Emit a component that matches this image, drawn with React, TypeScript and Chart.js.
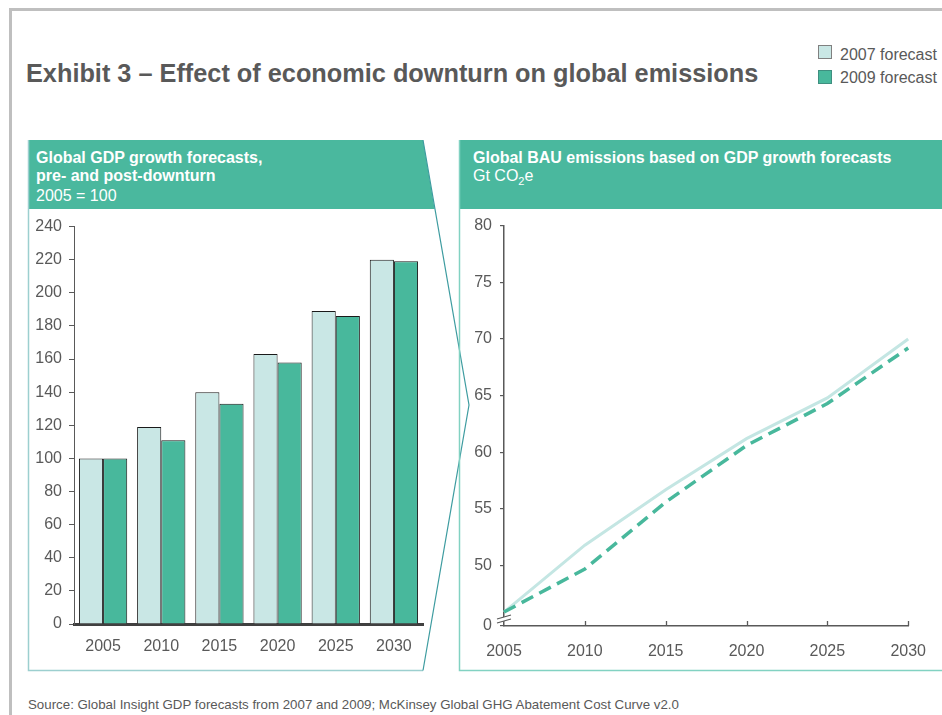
import React, { useEffect, useRef } from 'react';
import { Chart, registerables } from 'chart.js';

Chart.register(...registerables);

// ---------- data ----------
const years = ['2005', '2010', '2015', '2020', '2025', '2030'];
const gdp2007 = [100, 119, 140, 163, 189, 220];
const gdp2009 = [100, 111, 133, 158, 186, 219];
const gdpMin = 0;
const gdpMax = 240;
const gdpStep = 20;

const emis2007 = [45.9, 51.8, 56.7, 61.2, 64.8, 70.0];
const emis2009 = [45.9, 49.7, 55.6, 60.6, 64.3, 69.2];
const emisTicks = [50, 55, 60, 65, 70, 75, 80];
const emisAxisMin = 44.67; // bottom of broken axis (labelled "0")
const emisBreakLabel = '0';

const seriesNames = ['2007 forecast', '2009 forecast'];

// ---------- style ----------
const FONT = '"Liberation Sans", Arial, Helvetica, sans-serif';
const TEXT = '#595959';
const TEAL = '#4ab89e';
const LIGHT = '#c9e7e5';
const LIGHT_LINE = '#c4e6e3';
const DARK = '#48b89c';
const TICK_SIZE = 16;

function BarChart() {
  const ref = useRef<HTMLCanvasElement>(null);
  useEffect(() => {
    const chart = new Chart(ref.current as HTMLCanvasElement, {
      type: 'bar',
      data: {
        labels: years,
        datasets: [
          { label: seriesNames[0], data: gdp2007, backgroundColor: LIGHT, borderColor: '#1a1a1a', borderWidth: 1 },
          { label: seriesNames[1], data: gdp2009, backgroundColor: DARK, borderColor: '#1a1a1a', borderWidth: 1 },
        ],
      },
      options: {
        animation: false,
        responsive: false,
        maintainAspectRatio: false,
        layout: { padding: { top: 12, right: 5, bottom: 0, left: 0 } },
        datasets: { bar: { categoryPercentage: 0.83, barPercentage: 1 } },
        plugins: { legend: { display: false }, tooltip: { enabled: false } },
        scales: {
          x: {
            grid: { display: false, drawTicks: false },
            border: { display: true, color: '#404040', width: 3 },
            ticks: { color: TEXT, font: { family: FONT, size: TICK_SIZE }, padding: 13 },
            afterFit: (s: any) => { s.height = 28; },
          },
          y: {
            min: gdpMin,
            max: gdpMax,
            ticks: { stepSize: gdpStep, color: TEXT, font: { family: FONT, size: TICK_SIZE }, padding: 7 },
            grid: { drawOnChartArea: false, drawTicks: true, tickLength: 5, color: '#595959', lineWidth: 1 },
            border: { color: '#595959', width: 1 },
            afterFit: (s: any) => { s.width = 46; },
          },
        },
      } as any,
    });
    return () => chart.destroy();
  }, []);
  return (
    <canvas
      ref={ref}
      width={400}
      height={442}
      style={{ position: 'absolute', left: 28, top: 210, width: 400, height: 442 }}
    />
  );
}

const axisDeco = {
  id: 'axisDeco',
  afterDraw(chart: any) {
    const { ctx, chartArea } = chart;
    const xs = chart.scales.x;
    const { left, bottom } = chartArea;
    ctx.save();
    // inward x ticks
    ctx.strokeStyle = '#595959';
    ctx.lineWidth = 1.3;
    for (let i = 1; i < xs.ticks.length; i++) {
      const x = Math.round(xs.getPixelForTick(i)) + 0.5;
      ctx.beginPath();
      ctx.moveTo(x, bottom);
      ctx.lineTo(x, bottom - 5);
      ctx.stroke();
    }
    // axis break
    ctx.fillStyle = '#ffffff';
    ctx.beginPath();
    ctx.moveTo(left - 7, bottom - 7);
    ctx.lineTo(left + 7, bottom - 11);
    ctx.lineTo(left + 7, bottom - 7);
    ctx.lineTo(left - 7, bottom - 3);
    ctx.closePath();
    ctx.fill();
    ctx.strokeStyle = '#595959';
    ctx.lineWidth = 1.2;
    ctx.beginPath();
    ctx.moveTo(left - 7, bottom - 7);
    ctx.lineTo(left + 7, bottom - 11);
    ctx.moveTo(left - 7, bottom - 3);
    ctx.lineTo(left + 7, bottom - 7);
    ctx.stroke();
    ctx.restore();
  },
};

function LineChart() {
  const ref = useRef<HTMLCanvasElement>(null);
  useEffect(() => {
    const chart = new Chart(ref.current as HTMLCanvasElement, {
      type: 'line',
      data: {
        labels: years,
        datasets: [
          { label: seriesNames[1], data: emis2009, borderColor: DARK, borderWidth: 3.5, borderDash: [13, 7], pointRadius: 0, fill: false, tension: 0 },
          { label: seriesNames[0], data: emis2007, borderColor: LIGHT_LINE, borderWidth: 3, pointRadius: 0, fill: false, tension: 0 },
        ],
      },
      options: {
        animation: false,
        responsive: false,
        maintainAspectRatio: false,
        layout: { padding: { top: 9.5, right: 33, bottom: 0, left: 0 } },
        plugins: { legend: { display: false }, tooltip: { enabled: false } },
        scales: {
          x: {
            offset: false,
            grid: { display: false, drawTicks: false },
            border: { display: true, color: '#595959', width: 1.5 },
            ticks: { color: TEXT, font: { family: FONT, size: TICK_SIZE }, padding: 16, maxRotation: 0 },
            afterFit: (s: any) => { s.height = 41; },
          },
          y: {
            min: emisAxisMin,
            max: emisTicks[emisTicks.length - 1],
            afterBuildTicks: (s: any) => {
              s.ticks = [emisAxisMin, ...emisTicks].map((v) => ({ value: v }));
            },
            ticks: {
              color: TEXT,
              font: { family: FONT, size: TICK_SIZE },
              padding: 8,
              callback: (v: any) => (v < emisTicks[0] ? emisBreakLabel : String(v)),
            },
            grid: { drawOnChartArea: false, drawTicks: true, tickLength: 4, color: '#595959', lineWidth: 1.2 },
            border: { color: '#595959', width: 1.5 },
            afterFit: (s: any) => { s.width = 42; },
          },
        },
      } as any,
      plugins: [axisDeco],
    });
    return () => chart.destroy();
  }, []);
  return (
    <canvas
      ref={ref}
      width={480}
      height={459}
      style={{ position: 'absolute', left: 462, top: 208, width: 480, height: 459 }}
    />
  );
}

export default function App() {
  const txt = (extra: any): any => ({ position: 'absolute', fontFamily: FONT, whiteSpace: 'nowrap', ...extra });
  return (
    <div style={{ position: 'fixed', left: 0, top: 0, width: 942, height: 715, background: '#fff', overflow: 'hidden' }}>
      <svg width={942} height={715} style={{ position: 'absolute', left: 0, top: 0 }}>
        {/* outer frame */}
        <line x1={9} y1={9.5} x2={942} y2={9.5} stroke="#bfbfbf" strokeWidth={3} />
        <line x1={10.5} y1={8} x2={10.5} y2={715} stroke="#bfbfbf" strokeWidth={3} />
        {/* left panel header */}
        <polygon points="28,140 423,140 434.7,209 28,209" fill={TEAL} />
        {/* left panel outline */}
        <polyline points="28.5,140 28.5,670.5 423,670.5" fill="none" stroke="#9ccfcf" strokeWidth={1.5} />
        <polyline points="423,140 469,405 423,670.5" fill="none" stroke="#3e9ca0" strokeWidth={1.2} />
        {/* right panel header */}
        <rect x={459} y={140} width={500} height={69} fill={TEAL} />
        <polyline points="950,670.5 459.5,670.5 459.5,140" fill="none" stroke="#82d2c2" strokeWidth={1.5} />
      </svg>

      <div style={txt({ left: 26, top: 58, fontSize: 25.3, lineHeight: '30px', fontWeight: 'bold', color: TEXT })}>
        Exhibit 3 – Effect of economic downturn on global emissions
      </div>

      {/* legend */}
      <div style={{ position: 'absolute', left: 818, top: 45, width: 14, height: 14, background: LIGHT, border: '1px solid #808080', boxSizing: 'border-box' }} />
      <div style={{ position: 'absolute', left: 818, top: 70, width: 14, height: 14, background: DARK, border: '1px solid #3f8f80', boxSizing: 'border-box' }} />
      <div style={txt({ left: 840, top: 45, fontSize: 16, lineHeight: '20px', color: TEXT })}>{seriesNames[0]}</div>
      <div style={txt({ left: 840, top: 68, fontSize: 16, lineHeight: '20px', color: TEXT })}>{seriesNames[1]}</div>

      {/* panel headers */}
      <div style={txt({ left: 36, top: 149, fontSize: 16, lineHeight: '18px', color: '#fff' })}>
        <div style={{ fontWeight: 'bold' }}>Global GDP growth forecasts,</div>
        <div style={{ fontWeight: 'bold' }}>pre- and post-downturn</div>
        <div style={{ marginTop: 2 }}>2005 = 100</div>
      </div>
      <div style={txt({ left: 473, top: 149, fontSize: 16, lineHeight: '18px', color: '#fff' })}>
        <div style={{ fontWeight: 'bold' }}>Global BAU emissions based on GDP growth forecasts</div>
        <div>
          Gt CO<sub style={{ fontSize: 11, verticalAlign: -4, lineHeight: 0 }}>2</sub>e
        </div>
      </div>

      <BarChart />
      <LineChart />

      <div style={txt({ left: 28, top: 697, fontSize: 13.3, lineHeight: '16px', color: TEXT })}>
        Source: Global Insight GDP forecasts from 2007 and 2009; McKinsey Global GHG Abatement Cost Curve v2.0
      </div>
    </div>
  );
}
